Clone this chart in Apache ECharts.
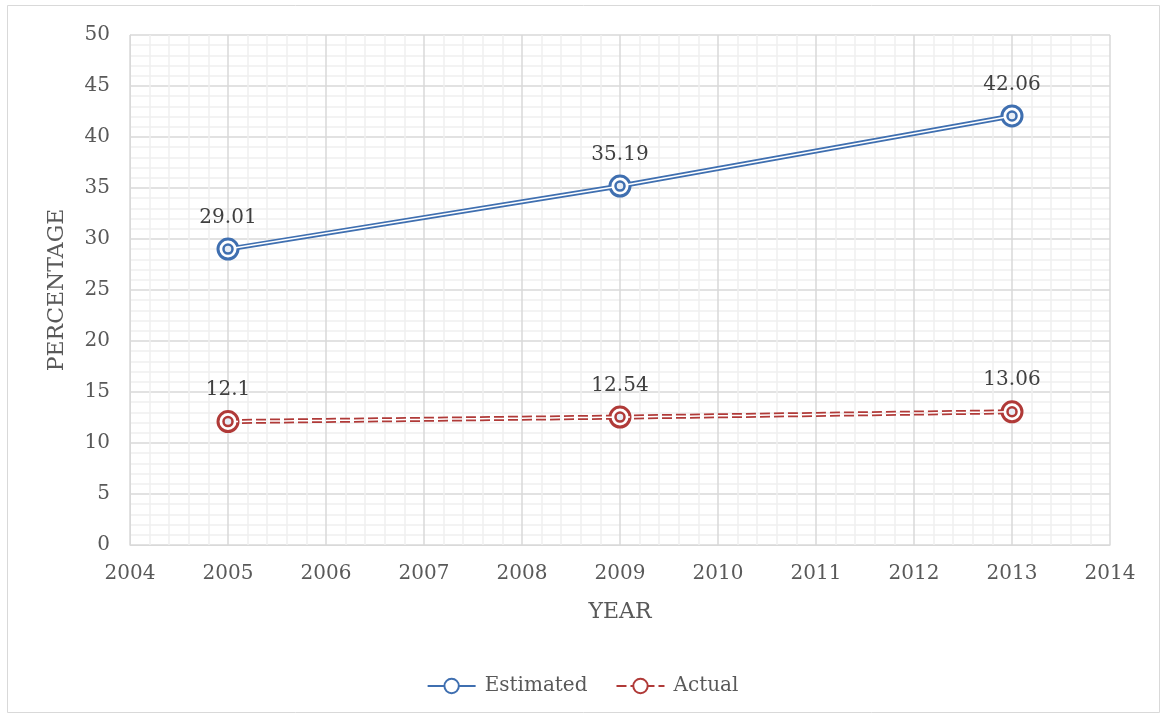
<!DOCTYPE html>
<html>
<head>
<meta charset="utf-8">
<script src="https://cdn.jsdelivr.net/npm/echarts@6/dist/echarts.min.js"></script>
<style>
  html, body { margin: 0; padding: 0; background: #fff; }
  #main { width: 1165px; height: 718px; }
</style>
</head>
<body>
<div id="main"></div>
<script>
var years = [2005, 2009, 2013];
var estimated = [29.01, 35.19, 42.06];
var actual = [12.1, 12.54, 13.06];

function drawChart() {
    var chartDom = document.getElementById('main');
    var myChart = echarts.init(chartDom);
    var option;

    var font = 'DejaVu Serif';
    var textColor = '#595959';

    function pairs(values) {
        return values.map(function (v, i) { return [years[i], v]; });
    }

    function doubleLine(name, values, color, dashed) {
        // wide coloured stroke + thin white stroke on top = compound line
        var dash = dashed ? [10, 4] : 'solid';
        return [
            {
                name: name,
                type: 'line',
                data: pairs(values),
                symbol: 'circle',
                symbolSize: 20,
                lineStyle: { color: color, width: 5, type: dash },
                itemStyle: { color: '#fff', borderColor: color, borderWidth: 3 },
                label: {
                    show: true,
                    position: 'top',
                    distance: 10,
                    fontFamily: font,
                    fontSize: 20,
                    color: '#404040'
                },
                z: 2
            },
            {
                name: name + '_inner',
                type: 'line',
                data: pairs(values),
                symbol: 'circle',
                symbolSize: 9,
                lineStyle: { color: '#fff', width: 1.5, type: dash },
                itemStyle: { color: '#e8eef6', borderColor: color, borderWidth: 2.5 },
                silent: true,
                z: 3
            }
        ];
    }

    option = {
        animation: false,
        backgroundColor: '#fff',
        grid: { left: 130, right: 55, top: 35, bottom: 173 },
        xAxis: {
            type: 'value',
            min: 2004,
            max: 2014,
            interval: 1,
            name: 'YEAR',
            nameLocation: 'middle',
            nameGap: 56,
            nameTextStyle: { fontFamily: font, fontSize: 22, color: textColor },
            axisLine: { show: true, lineStyle: { color: '#d9d9d9', width: 1 } },
            axisTick: { show: false },
            axisLabel: {
                fontFamily: font, fontSize: 20, color: textColor, margin: 19,
                formatter: function (v) { return String(v); }
            },
            splitLine: { show: true, lineStyle: { color: '#d9d9d9', width: 1.5 } },
            minorTick: { show: false, splitNumber: 5 },
            minorSplitLine: { show: true, lineStyle: { color: '#efefef', width: 1.5 } }
        },
        yAxis: {
            type: 'value',
            min: 0,
            max: 50,
            interval: 5,
            name: 'PERCENTAGE',
            nameLocation: 'middle',
            nameGap: 62,
            nameTextStyle: { fontFamily: font, fontSize: 22, color: textColor },
            axisLine: { show: true, lineStyle: { color: '#d9d9d9', width: 1 } },
            axisTick: { show: false },
            axisLabel: {
                fontFamily: font, fontSize: 20, color: textColor, margin: 20,
                padding: [3, 0, 0, 0]
            },
            splitLine: { show: true, lineStyle: { color: '#d9d9d9', width: 1.5 } },
            minorTick: { show: false, splitNumber: 5 },
            minorSplitLine: { show: true, lineStyle: { color: '#efefef', width: 1.5 } }
        },
        legend: {
            data: ['Estimated', 'Actual'],
            bottom: 17,
            left: 'center',
            itemWidth: 48,
            itemHeight: 18,
            itemGap: 28,
            textStyle: {
                fontFamily: font, fontSize: 20, color: textColor,
                padding: [0, 0, 0, 4]
            }
        },
        graphic: [
            {
                type: 'rect',
                shape: { x: 7.5, y: 5.5, width: 1152, height: 707 },
                style: { fill: 'none', stroke: '#d9d9d9', lineWidth: 1 },
                silent: true
            }
        ],
        series: []
            .concat(doubleLine('Estimated', estimated, '#3f6fb0', false))
            .concat(doubleLine('Actual', actual, '#b03a38', true))
    };

    option && myChart.setOption(option);
}

drawChart();
</script>
</body>
</html>
